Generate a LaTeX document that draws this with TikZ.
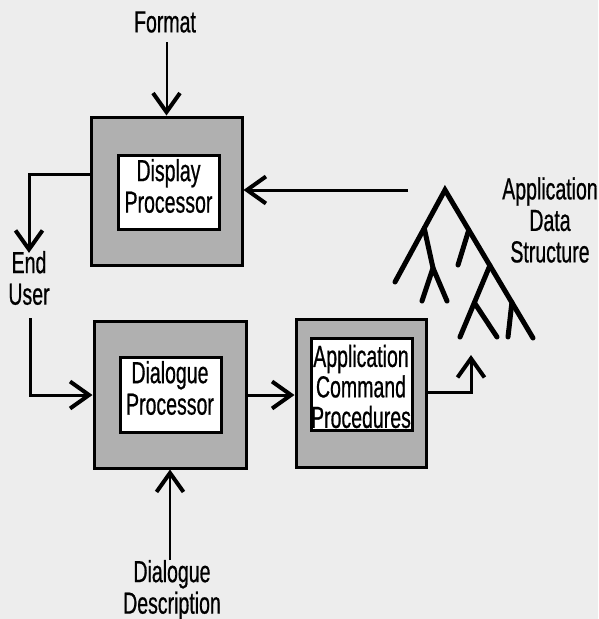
\documentclass[tikz,border=0pt]{standalone}
\usepackage{fontspec}
\newfontfamily\cf[FakeStretch=0.64,FakeBold=0.6]{Liberation Sans}
\usetikzlibrary{arrows.meta,calc}
\begin{document}
\begin{tikzpicture}[x=1pt,y=-1pt,
  lbl/.style={font=\cf\fontsize{30.5}{31.5}\selectfont, align=center, inner sep=0pt},
  outer/.style={draw=black, line width=3pt, fill=black!31},
  inner/.style={draw=black, line width=3pt, fill=white},
  arr/.style={line width=3pt, -{Straight Barb[length=19pt,width=27pt,line width=4pt]}},
  tree/.style={line width=5pt, line cap=round}]
\fill[black!7] (0,0) rectangle (598,619);
\useasboundingbox (0,0) rectangle (598,619);

% boxes
\node[outer, minimum width=151pt, minimum height=148pt] (dispO) at (166.5,191) {};
\node[inner, minimum width=101pt, minimum height=74pt] (dispI) at (168.5,192) {};
\node[lbl] (dispT) at (168.5,186) {Display\\Processor};

\node[outer, minimum width=152pt, minimum height=147pt] (dlgO) at (170,394.5) {};
\node[inner, minimum width=101pt, minimum height=75pt] (dlgI) at (170.5,394.5) {};
\node[lbl] (dlgT) at (170,388) {Dialogue\\Processor};

\node[outer, minimum width=130pt, minimum height=148pt] (appO) at (361,393) {};
\node[inner, minimum width=101pt, minimum height=92pt] (appI) at (361.5,384) {};
\node[lbl, font=\cf\fontsize{30.5}{30.5}\selectfont] (appT) at (361,386.5) {Application\\Command\\Procedures};

% labels
\node[lbl] (fmt) at (165,22) {Format};
\node[lbl] (eu) at (29,278) {End\\User};
\node[lbl] (dd) at (172,590) {Dialogue\\Description};
\node[lbl] (ads) at (550,220) {Application\\Data\\Structure};

% connectors
\coordinate (fmtS) at (165,42);
\draw[arr, line width=2pt] (dispO.north |- fmtS) -- (dispO.north);
\coordinate (trL) at (408,190);
\draw[arr] (trL) -- (dispO.east |- trL);
\coordinate (euY) at (30,174);
\draw[arr] (dispO.west |- euY) -| ([yshift=-2pt]eu.north);
\coordinate (uTop) at (30,318);
\coordinate (uY) at (30,395);
\draw[arr] (uTop) |- (dlgO.west |- uY);
\draw[arr] (dlgO.east |- uY) -- (appO.west |- uY);
\coordinate (aY) at (471,392);
\coordinate (aTip) at (471,355);
\draw[arr] (appO.east |- aY) -| (aTip);
\coordinate (ddS) at (170,560);
\draw[arr, line width=2pt] (ddS) -- (dlgO.south -| ddS);

% tree
\coordinate (root) at (445,190);
\coordinate (lEnd) at (395,282);
\coordinate (rEnd) at (533,338);
\draw[tree] (lEnd) -- (root) -- (rEnd);
\coordinate (lA) at ($(root)!0.415!(lEnd)$);
\draw[tree] (lA) -- (433,268) coordinate (lB);
\draw[tree] (422,301) -- (lB) -- (447,301);
\coordinate (rA) at ($(root)!0.27!(rEnd)$);
\draw[tree] (rA) -- (458,265);
\coordinate (rB) at ($(root)!0.51!(rEnd)$);
\draw[tree] (rB) -- (460,337);
\coordinate (rBa) at ($(rB)!0.52!(460,337)$);
\draw[tree] (rBa) -- (497,337);
\coordinate (rC) at ($(root)!0.76!(rEnd)$);
\draw[tree] (rC) -- (508,337);
\end{tikzpicture}
\end{document}
